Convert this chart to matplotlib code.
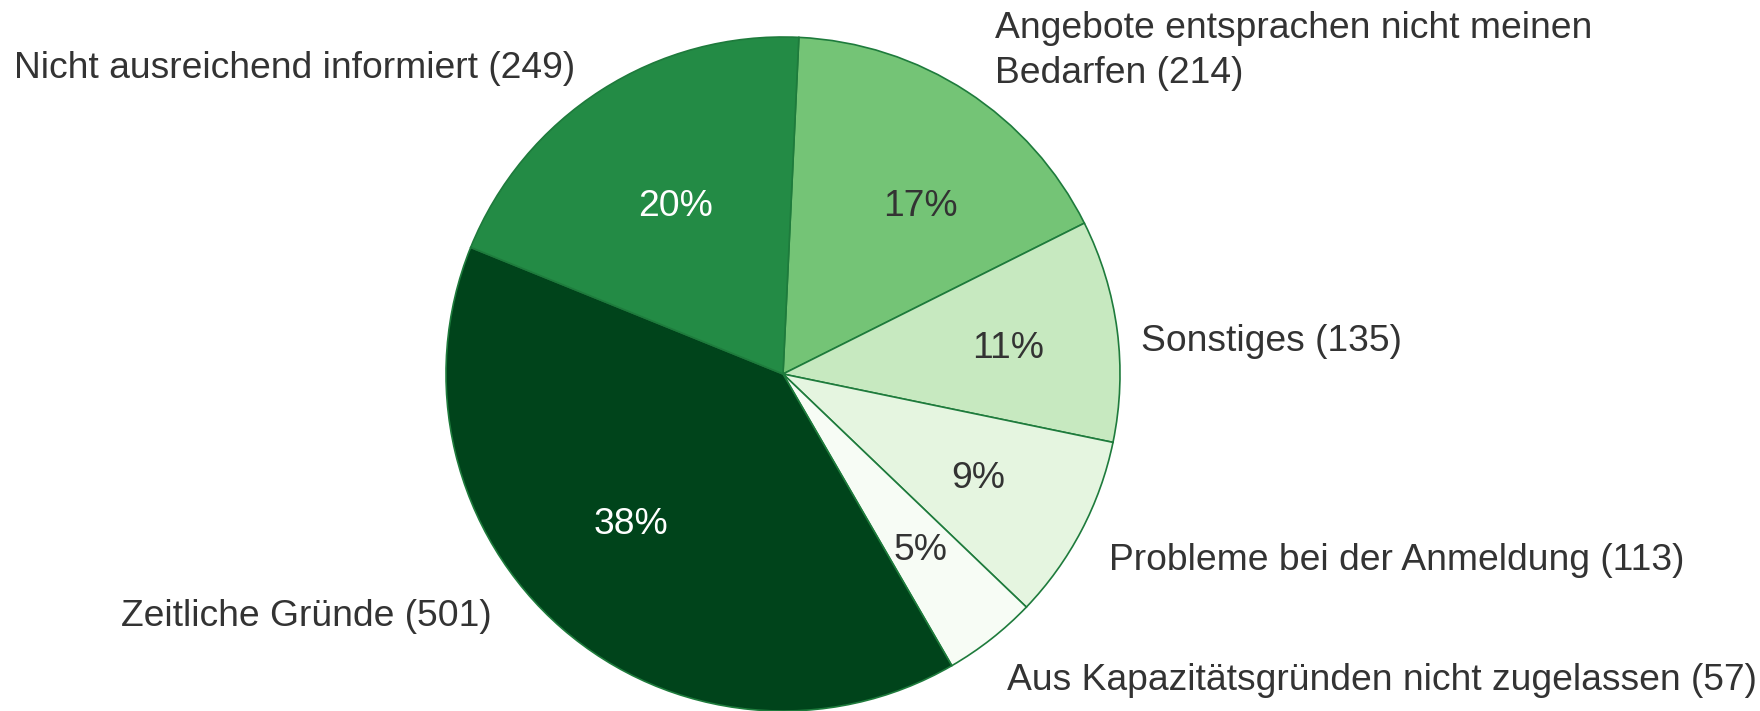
import matplotlib
matplotlib.use("Agg")
import matplotlib.pyplot as plt

# =========================
# DATEN
# =========================
kategorien = [
    "Angebote entsprachen nicht meinen\nBedarfen (214)",
    "Sonstiges (135)",
    "Probleme bei der Anmeldung (113)",
    "Aus Kapazitätsgründen nicht zugelassen (57)",
    "Zeitliche Gründe (501)",
    "Nicht ausreichend informiert (249)",
]
anzahl = [214, 135, 113, 57, 501, 249]
prozent_text = ["17%", "11%", "9%", "5%", "38%", "20%"]

farben = ["#74c476", "#c7e9c0", "#e5f5e0", "#f7fcf5", "#00441b", "#238b45"]
pct_farben = ["#333333", "#333333", "#333333", "#333333", "white", "white"]

# Position der Beschriftungen (Pixel im Bild, x, y von oben, Ausrichtung)
label_pos = [
    (995, 51, "left"),
    (1141, 341, "left"),
    (1109, 561, "left"),
    (1007, 680, "left"),
    (492, 617, "right"),
    (575, 69, "right"),
]
# Position der Prozentwerte (Pixel im Bild)
pct_pos = [(920, 206), (1008, 349), (978, 479), (921, 551), (631, 524), (676, 206)]

plt.rcParams["font.family"] = ["Liberation Sans", "DejaVu Sans"]

W, H = 1760, 711
fig = plt.figure(figsize=(W / 100, H / 100), dpi=100)

# Torte: Mittelpunkt (783, 374), Radius 337 px
cx, cy, r = 783, 374, 337
ax = fig.add_axes([(cx - r) / W, (H - cy - r) / H, 2 * r / W, 2 * r / H])

it = iter(prozent_text)
wedges, texts, autotexts = ax.pie(
    anzahl,
    colors=farben,
    startangle=87.3,
    counterclock=False,
    autopct=lambda p: next(it),
    pctdistance=0.64,
    wedgeprops=dict(edgecolor="#1e7b3c", linewidth=1.2),
    textprops=dict(fontsize=26.8),
)
for t, c, (px, py) in zip(autotexts, pct_farben, pct_pos):
    t.set_color(c)
    t.set_position(((px - cx) / r, (cy - py) / r))
    t.set_va("center")

ax.set_xlim(-1, 1)
ax.set_ylim(-1, 1)
ax.set_aspect("equal")

for text, (x, y, ha) in zip(kategorien, label_pos):
    fig.text(x / W, 1 - y / H, text, ha=ha, va="center", fontsize=26.8,
             color="#333333", linespacing=1.37)

fig.savefig("out.png", dpi=100, facecolor="white")
